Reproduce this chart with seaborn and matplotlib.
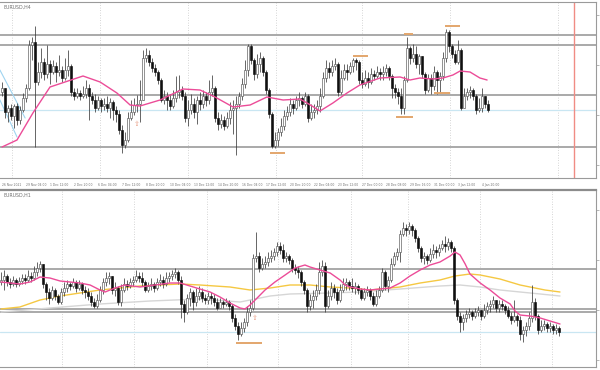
import numpy as np
import matplotlib
matplotlib.use("Agg")
import matplotlib.pyplot as plt
import seaborn as sns

sns.set_style("white")
plt.rcParams['font.family'] = ['DejaVu Sans']

# ---------- upper chart: EURUSD H4 ----------
h4_first_open = 1.1323
h4_close = [1.1327, 1.1303, 1.1307, 1.1299, 1.1309, 1.1295, 1.1305, 1.1317, 1.1327, 1.1370,
            1.1373, 1.1333, 1.1343, 1.1353, 1.1341, 1.1351, 1.1343, 1.1349, 1.1343, 1.1345,
            1.1337, 1.1345, 1.1349, 1.1323, 1.1319, 1.1322, 1.1319, 1.1321, 1.1327, 1.1319,
            1.1315, 1.1307, 1.1315, 1.1309, 1.1311, 1.1307, 1.1313, 1.1305, 1.1301, 1.1285,
            1.1270, 1.1275, 1.1297, 1.1303, 1.1310, 1.1311, 1.1315, 1.1357, 1.1360, 1.1353,
            1.1347, 1.1343, 1.1335, 1.1315, 1.1319, 1.1315, 1.1309, 1.1317, 1.1323, 1.1325,
            1.1319, 1.1297, 1.1305, 1.1311, 1.1303, 1.1315, 1.1311, 1.1319, 1.1315, 1.1323,
            1.1327, 1.1297, 1.1291, 1.1295, 1.1289, 1.1297, 1.1305, 1.1307, 1.1311, 1.1319,
            1.1331, 1.1345, 1.1369, 1.1355, 1.1341, 1.1351, 1.1357, 1.1343, 1.1325, 1.1301,
            1.1269, 1.1275, 1.1283, 1.1289, 1.1299, 1.1303, 1.1311, 1.1307, 1.1315, 1.1317,
            1.1311, 1.1319, 1.1297, 1.1303, 1.1305, 1.1309, 1.1319, 1.1337, 1.1347, 1.1343,
            1.1349, 1.1351, 1.1323, 1.1337, 1.1345, 1.1343, 1.1349, 1.1355, 1.1353, 1.1335,
            1.1331, 1.1337, 1.1333, 1.1341, 1.1339, 1.1343, 1.1341, 1.1343, 1.1347, 1.1339,
            1.1327, 1.1323, 1.1319, 1.1307, 1.1335, 1.1367, 1.1357, 1.1361, 1.1351, 1.1359,
            1.1341, 1.1325, 1.1337, 1.1329, 1.1343, 1.1335, 1.1339, 1.1357, 1.1383, 1.1369,
            1.1361, 1.1353, 1.1365, 1.1307, 1.1319, 1.1323, 1.1325, 1.1319, 1.1305, 1.1307,
            1.1319, 1.1311, 1.1305]
h4_high = [1.1333, 1.1323, 1.1310, 1.1311, 1.1311, 1.1312, 1.1309, 1.1322, 1.1331, 1.1375,
           1.1378, 1.1389, 1.1353, 1.1367, 1.1357, 1.1370, 1.1355, 1.1355, 1.1353, 1.1360,
           1.1349, 1.1357, 1.1365, 1.1351, 1.1327, 1.1327, 1.1325, 1.1329, 1.1335, 1.1331,
           1.1323, 1.1321, 1.1319, 1.1317, 1.1317, 1.1319, 1.1317, 1.1315, 1.1309, 1.1305,
           1.1290, 1.1283, 1.1303, 1.1315, 1.1317, 1.1320, 1.1335, 1.1365, 1.1367, 1.1365,
           1.1357, 1.1351, 1.1345, 1.1337, 1.1325, 1.1323, 1.1321, 1.1325, 1.1339, 1.1340,
           1.1329, 1.1323, 1.1315, 1.1321, 1.1317, 1.1319, 1.1323, 1.1325, 1.1323, 1.1335,
           1.1340, 1.1329, 1.1303, 1.1301, 1.1299, 1.1303, 1.1313, 1.1315, 1.1319, 1.1323,
           1.1337, 1.1355, 1.1371, 1.1371, 1.1357, 1.1361, 1.1363, 1.1359, 1.1345, 1.1327,
           1.1303, 1.1283, 1.1287, 1.1297, 1.1305, 1.1309, 1.1317, 1.1315, 1.1319, 1.1323,
           1.1319, 1.1323, 1.1321, 1.1311, 1.1311, 1.1315, 1.1327, 1.1343, 1.1355, 1.1353,
           1.1355, 1.1357, 1.1353, 1.1345, 1.1351, 1.1351, 1.1353, 1.1357, 1.1357, 1.1355,
           1.1343, 1.1345, 1.1343, 1.1347, 1.1345, 1.1349, 1.1347, 1.1349, 1.1351, 1.1349,
           1.1341, 1.1331, 1.1327, 1.1327, 1.1339, 1.1378, 1.1369, 1.1371, 1.1369, 1.1361,
           1.1359, 1.1343, 1.1341, 1.1341, 1.1349, 1.1345, 1.1343, 1.1363, 1.1386, 1.1385,
           1.1371, 1.1365, 1.1375, 1.1367, 1.1327, 1.1327, 1.1329, 1.1327, 1.1321, 1.1317,
           1.1327, 1.1319, 1.1315]
h4_low = [1.1319, 1.1297, 1.1293, 1.1295, 1.1287, 1.1290, 1.1291, 1.1303, 1.1313, 1.1325,
          1.1355, 1.1268, 1.1330, 1.1337, 1.1335, 1.1337, 1.1331, 1.1341, 1.1333, 1.1339,
          1.1333, 1.1335, 1.1339, 1.1319, 1.1315, 1.1317, 1.1315, 1.1317, 1.1317, 1.1295,
          1.1311, 1.1303, 1.1305, 1.1303, 1.1305, 1.1303, 1.1297, 1.1295, 1.1293, 1.1281,
          1.1262, 1.1267, 1.1273, 1.1295, 1.1300, 1.1303, 1.1293, 1.1315, 1.1353, 1.1349,
          1.1343, 1.1339, 1.1331, 1.1313, 1.1311, 1.1305, 1.1305, 1.1307, 1.1313, 1.1317,
          1.1315, 1.1293, 1.1289, 1.1301, 1.1297, 1.1291, 1.1305, 1.1307, 1.1309, 1.1311,
          1.1319, 1.1293, 1.1285, 1.1287, 1.1285, 1.1287, 1.1291, 1.1281, 1.1260, 1.1307,
          1.1315, 1.1327, 1.1339, 1.1351, 1.1335, 1.1337, 1.1343, 1.1339, 1.1321, 1.1297,
          1.1267, 1.1267, 1.1269, 1.1279, 1.1285, 1.1295, 1.1299, 1.1301, 1.1305, 1.1309,
          1.1307, 1.1309, 1.1293, 1.1295, 1.1297, 1.1301, 1.1303, 1.1317, 1.1333, 1.1337,
          1.1339, 1.1345, 1.1319, 1.1321, 1.1335, 1.1335, 1.1341, 1.1343, 1.1345, 1.1331,
          1.1327, 1.1329, 1.1327, 1.1331, 1.1335, 1.1337, 1.1335, 1.1335, 1.1339, 1.1335,
          1.1317, 1.1317, 1.1311, 1.1301, 1.1301, 1.1333, 1.1351, 1.1353, 1.1347, 1.1341,
          1.1337, 1.1321, 1.1323, 1.1321, 1.1325, 1.1321, 1.1323, 1.1335, 1.1353, 1.1363,
          1.1357, 1.1351, 1.1351, 1.1305, 1.1311, 1.1315, 1.1317, 1.1315, 1.1301, 1.1303,
          1.1303, 1.1307, 1.1303]

# moving average (pink) sampled along the bars
h4_ma_bar = [0, 5, 10.3, 16, 27, 32.7, 38.3, 42.7, 46, 52.7, 60.3, 66, 71, 77, 82.7, 88.3,
             93.7, 99.3, 101.7, 106, 110.3, 115, 119.3, 126, 132.7, 136, 139.3, 143.7, 147,
             150.3, 152.7, 156, 159.3, 161.7]
h4_ma = [1.1268, 1.1275, 1.1302, 1.1328, 1.1339, 1.1333, 1.1322, 1.1310, 1.1309, 1.1315,
         1.1326, 1.1325, 1.1318, 1.1308, 1.1310, 1.1318, 1.1315, 1.1316, 1.1312, 1.1304,
         1.1312, 1.1322, 1.1330, 1.1337, 1.1338, 1.1335, 1.1337, 1.1336, 1.1337, 1.1340,
         1.1344, 1.1343, 1.1337, 1.1335]

h4_levels = [1.1380, 1.1370, 1.1320, 1.1268]
h4_blue_level = 1.1305
h4_channel = [([-0.7, 7.7], [1.1345, 1.1297]), ([-0.7, 5.0], [1.1315, 1.1278])]
# orange swing markers: (first bar, last bar, price)
h4_marks = [(89.3, 94.3, 1.1262), (117, 122, 1.1359), (134, 137, 1.1381),
            (147.7, 152.7, 1.1389), (144, 149.3, 1.1322), (131.3, 137, 1.1298)]
h4_arrow = (45, 1.1291)
h4_labels = ["26 Nov 2021", "29 Nov 04:00", "1 Dec 12:00", "2 Dec 20:00", "6 Dec 04:00",
             "7 Dec 12:00", "8 Dec 20:00", "10 Dec 04:00", "13 Dec 12:00", "14 Dec 20:00",
             "16 Dec 04:00", "17 Dec 12:00", "20 Dec 20:00", "22 Dec 04:00", "23 Dec 12:00",
             "27 Dec 00:00", "28 Dec 08:00", "29 Dec 16:00", "31 Dec 00:00", "3 Jan 12:00",
             "4 Jan 20:00"]
h4_grid_bars = [3.3, 32.7, 62, 91.3, 120, 149.3, 185.3]
h4_now_bar = 190.7

# ---------- lower chart: EURUSD H1 ----------
h1_first_open = 1.1328
h1_close = [1.1330, 1.1334, 1.1328, 1.1326, 1.1330, 1.1326, 1.1329, 1.1332, 1.1330, 1.1334,
            1.1332, 1.1338, 1.1342, 1.1346, 1.1326, 1.1318, 1.1312, 1.1320, 1.1314, 1.1308,
            1.1318, 1.1322, 1.1326, 1.1324, 1.1328, 1.1322, 1.1326, 1.1320, 1.1318, 1.1314,
            1.1308, 1.1304, 1.1310, 1.1320, 1.1328, 1.1332, 1.1334, 1.1320, 1.1322, 1.1308,
            1.1320, 1.1326, 1.1324, 1.1328, 1.1330, 1.1334, 1.1332, 1.1328, 1.1320, 1.1324,
            1.1326, 1.1322, 1.1328, 1.1330, 1.1326, 1.1332, 1.1334, 1.1336, 1.1338, 1.1330,
            1.1306, 1.1298, 1.1312, 1.1318, 1.1308, 1.1314, 1.1318, 1.1312, 1.1310, 1.1314,
            1.1312, 1.1308, 1.1302, 1.1308, 1.1306, 1.1308, 1.1304, 1.1292, 1.1284, 1.1276,
            1.1282, 1.1288, 1.1298, 1.1302, 1.1352, 1.1354, 1.1342, 1.1346, 1.1348, 1.1352,
            1.1354, 1.1358, 1.1364, 1.1360, 1.1352, 1.1354, 1.1350, 1.1342, 1.1340, 1.1338,
            1.1328, 1.1320, 1.1304, 1.1310, 1.1314, 1.1320, 1.1338, 1.1344, 1.1304, 1.1314,
            1.1322, 1.1318, 1.1310, 1.1320, 1.1326, 1.1328, 1.1324, 1.1322, 1.1324, 1.1320,
            1.1312, 1.1318, 1.1320, 1.1314, 1.1306, 1.1314, 1.1320, 1.1338, 1.1324, 1.1330,
            1.1346, 1.1354, 1.1358, 1.1376, 1.1382, 1.1380, 1.1384, 1.1380, 1.1372, 1.1362,
            1.1352, 1.1354, 1.1350, 1.1356, 1.1360, 1.1358, 1.1362, 1.1366, 1.1364, 1.1368,
            1.1362, 1.1310, 1.1294, 1.1288, 1.1292, 1.1296, 1.1298, 1.1294, 1.1298, 1.1300,
            1.1294, 1.1300, 1.1304, 1.1306, 1.1310, 1.1302, 1.1306, 1.1304, 1.1300, 1.1294,
            1.1290, 1.1294, 1.1290, 1.1276, 1.1280, 1.1284, 1.1292, 1.1308, 1.1294, 1.1280,
            1.1284, 1.1286, 1.1282, 1.1284, 1.1280, 1.1282, 1.1278]
h1_high = [1.1338, 1.1340, 1.1336, 1.1332, 1.1334, 1.1332, 1.1333, 1.1336, 1.1336, 1.1340,
           1.1338, 1.1344, 1.1348, 1.1349, 1.1346, 1.1328, 1.1322, 1.1324, 1.1322, 1.1316,
           1.1322, 1.1328, 1.1330, 1.1328, 1.1332, 1.1330, 1.1330, 1.1328, 1.1324, 1.1322,
           1.1318, 1.1312, 1.1316, 1.1324, 1.1332, 1.1338, 1.1338, 1.1334, 1.1328, 1.1324,
           1.1326, 1.1332, 1.1330, 1.1332, 1.1334, 1.1340, 1.1338, 1.1338, 1.1330, 1.1328,
           1.1332, 1.1328, 1.1332, 1.1336, 1.1334, 1.1338, 1.1338, 1.1340, 1.1342, 1.1340,
           1.1334, 1.1310, 1.1316, 1.1322, 1.1320, 1.1322, 1.1324, 1.1322, 1.1316, 1.1318,
           1.1318, 1.1316, 1.1312, 1.1312, 1.1310, 1.1312, 1.1310, 1.1306, 1.1296, 1.1288,
           1.1288, 1.1292, 1.1304, 1.1310, 1.1356, 1.1378, 1.1358, 1.1352, 1.1354, 1.1358,
           1.1360, 1.1362, 1.1368, 1.1368, 1.1366, 1.1358, 1.1356, 1.1352, 1.1346, 1.1344,
           1.1340, 1.1330, 1.1322, 1.1316, 1.1320, 1.1326, 1.1348, 1.1350, 1.1348, 1.1320,
           1.1328, 1.1326, 1.1322, 1.1326, 1.1332, 1.1332, 1.1330, 1.1332, 1.1328, 1.1326,
           1.1322, 1.1322, 1.1324, 1.1322, 1.1318, 1.1320, 1.1324, 1.1342, 1.1340, 1.1334,
           1.1352, 1.1358, 1.1362, 1.1380, 1.1388, 1.1386, 1.1388, 1.1386, 1.1382, 1.1374,
           1.1364, 1.1358, 1.1356, 1.1362, 1.1366, 1.1364, 1.1366, 1.1370, 1.1374, 1.1372,
           1.1370, 1.1364, 1.1312, 1.1298, 1.1296, 1.1300, 1.1302, 1.1300, 1.1302, 1.1304,
           1.1300, 1.1306, 1.1308, 1.1310, 1.1314, 1.1310, 1.1310, 1.1310, 1.1306, 1.1304,
           1.1298, 1.1310, 1.1296, 1.1294, 1.1284, 1.1288, 1.1298, 1.1325, 1.1312, 1.1296,
           1.1290, 1.1290, 1.1288, 1.1288, 1.1286, 1.1286, 1.1284]
h1_low = [1.1325, 1.1320, 1.1324, 1.1322, 1.1324, 1.1323, 1.1324, 1.1326, 1.1326, 1.1328,
          1.1328, 1.1330, 1.1334, 1.1338, 1.1322, 1.1310, 1.1306, 1.1310, 1.1310, 1.1306,
          1.1306, 1.1314, 1.1318, 1.1320, 1.1322, 1.1318, 1.1320, 1.1316, 1.1312, 1.1310,
          1.1304, 1.1302, 1.1302, 1.1308, 1.1316, 1.1324, 1.1326, 1.1316, 1.1314, 1.1305,
          1.1304, 1.1318, 1.1320, 1.1322, 1.1324, 1.1328, 1.1328, 1.1324, 1.1318, 1.1318,
          1.1320, 1.1318, 1.1320, 1.1324, 1.1322, 1.1324, 1.1328, 1.1330, 1.1332, 1.1326,
          1.1292, 1.1288, 1.1296, 1.1304, 1.1300, 1.1304, 1.1310, 1.1308, 1.1306, 1.1306,
          1.1306, 1.1304, 1.1300, 1.1302, 1.1302, 1.1304, 1.1300, 1.1288, 1.1280, 1.1270,
          1.1274, 1.1278, 1.1284, 1.1294, 1.1300, 1.1348, 1.1338, 1.1340, 1.1342, 1.1344,
          1.1348, 1.1350, 1.1354, 1.1356, 1.1348, 1.1348, 1.1346, 1.1338, 1.1336, 1.1332,
          1.1324, 1.1316, 1.1298, 1.1300, 1.1302, 1.1310, 1.1316, 1.1334, 1.1298, 1.1302,
          1.1310, 1.1312, 1.1306, 1.1308, 1.1318, 1.1320, 1.1320, 1.1318, 1.1316, 1.1316,
          1.1310, 1.1310, 1.1314, 1.1310, 1.1304, 1.1304, 1.1312, 1.1318, 1.1320, 1.1318,
          1.1328, 1.1344, 1.1350, 1.1348, 1.1374, 1.1374, 1.1376, 1.1374, 1.1368, 1.1358,
          1.1348, 1.1346, 1.1346, 1.1348, 1.1352, 1.1352, 1.1354, 1.1360, 1.1358, 1.1360,
          1.1358, 1.1306, 1.1290, 1.1278, 1.1280, 1.1288, 1.1292, 1.1290, 1.1292, 1.1294,
          1.1290, 1.1292, 1.1296, 1.1298, 1.1302, 1.1298, 1.1298, 1.1300, 1.1296, 1.1292,
          1.1286, 1.1288, 1.1284, 1.1270, 1.1268, 1.1274, 1.1280, 1.1288, 1.1290, 1.1276,
          1.1278, 1.1280, 1.1278, 1.1278, 1.1276, 1.1276, 1.1274]

h1_fast_bar = [0, 3, 6.3, 9.7, 13, 16.3, 19.7, 23, 26.3, 29.7, 33, 34.7, 38, 41.3, 46.3, 51.3,
               56.3, 59.7, 63, 66.3, 69.7, 73, 76.3, 79.7, 81.3, 83, 84.7, 88, 91.3, 94.7, 98,
               101.3, 103, 106.3, 109.7, 113, 114.7, 116.3, 119.7, 123, 126.3, 129.7, 133,
               136.3, 139.7, 143, 146.3, 149.7, 151.3, 153, 154.7, 156.3, 159.7, 163, 166.3,
               169.7, 171.3, 173, 176.3, 179.7, 183, 186.3]
h1_fast = [1.1328, 1.1327, 1.1326, 1.1328, 1.1333, 1.1332, 1.1329, 1.1328, 1.1327, 1.1325,
           1.1320, 1.1318, 1.1322, 1.1325, 1.1323, 1.1325, 1.1327, 1.1327, 1.1324, 1.1321,
           1.1318, 1.1313, 1.1307, 1.1302, 1.1301, 1.1305, 1.1310, 1.1320, 1.1328, 1.1335,
           1.1342, 1.1345, 1.1343, 1.1340, 1.1337, 1.1330, 1.1325, 1.1323, 1.1321, 1.1320,
           1.1321, 1.1322, 1.1327, 1.1334, 1.1340, 1.1345, 1.1348, 1.1354, 1.1358, 1.1355,
           1.1346, 1.1336, 1.1327, 1.1320, 1.1312, 1.1306, 1.1299, 1.1295, 1.1294, 1.1292,
           1.1289, 1.1286]
h1_mid_bar = [0, 6.3, 13, 19.7, 26.3, 33, 39.7, 46.3, 53, 59.7, 66.3, 76.3, 83, 89.7, 96.3,
              103, 109.7, 116.3, 123, 129.7, 133, 139.7, 146.3, 151.3, 156.3, 159.7, 166.3,
              173, 176.3, 181.3, 186.3]
h1_mid = [1.1301, 1.1303, 1.1310, 1.1314, 1.1317, 1.1320, 1.1322, 1.1324, 1.1325, 1.1326,
          1.1325, 1.1323, 1.1320, 1.1322, 1.1325, 1.1325, 1.1323, 1.1322, 1.1320, 1.1322,
          1.1323, 1.1327, 1.1330, 1.1334, 1.1336, 1.1335, 1.1331, 1.1325, 1.1323, 1.1320,
          1.1318]
h1_slow_bar = [0, 16.3, 33, 49.7, 66.3, 79.7, 83, 89.7, 96.3, 109.7, 119.7, 133, 146.3, 153,
               159.7, 166.3, 173, 179.7, 186.3]
h1_slow = [1.1298, 1.1302, 1.1306, 1.1309, 1.1311, 1.1308, 1.1310, 1.1314, 1.1316, 1.1317,
           1.1318, 1.1321, 1.1324, 1.1325, 1.1323, 1.1320, 1.1318, 1.1316, 1.1314]

h1_levels = [1.1341, 1.1301, 1.1298]
h1_blue_level = 1.1278
h1_marks = [(78.3, 87, 1.1267)]
h1_arrow = (84.7, 1.1292)
h1_grid_bars = [20.3, 44.3, 68.7, 92.3, 116.7, 135.7, 159.7, 183.7]

GREY_TXT = '#707070'
LEVEL = '#a9a9a9'


def draw_candles(ax, first_open, close, high, low):
    c = np.array(close)
    o = np.concatenate([[first_open], c[:-1]])
    hi = np.maximum(np.array(high), np.maximum(o, c))
    lo = np.minimum(np.array(low), np.minimum(o, c))
    x = np.arange(len(c))
    ax.vlines(x, lo, hi, color='#3c3c3c', lw=0.55, zorder=3)
    up = c >= o
    body = np.maximum(np.abs(c - o), 0.00003)
    ax.bar(x[up], body[up], bottom=o[up], width=0.72, color='white',
           edgecolor='#555555', linewidth=0.45, zorder=4)
    ax.bar(x[~up], body[~up], bottom=c[~up], width=0.72, color='#101010',
           edgecolor='#101010', linewidth=0.45, zorder=4)


def frame(ax):
    for s in ax.spines.values():
        s.set_color('#9a9a9a')
        s.set_linewidth(0.8)
    ax.spines['left'].set_visible(False)
    ax.yaxis.tick_right()
    ax.tick_params(axis='y', length=2, width=0.5, colors='#9a9a9a', labelright=False)


fig = plt.figure(figsize=(6, 3.7), dpi=100)
ax1 = fig.add_axes([0.0, 1 - 178 / 370, 596 / 600, 176 / 370])
ax2 = fig.add_axes([0.0, 3 / 370, 596 / 600, 177 / 370])

# upper panel
for b in h4_grid_bars:
    ax1.axvline(b, color='#c8c8c8', lw=0.6, ls=(0, (1, 2)), zorder=1)
for lv in h4_levels:
    ax1.axhline(lv, color=LEVEL, lw=1.4, zorder=2)
ax1.axhline(h4_blue_level, color='#c9e6f2', lw=0.9, zorder=2)
ax1.axvline(h4_now_bar, color='#f08c84', lw=1.0, zorder=2)
for xs, ys in h4_channel:
    ax1.plot(xs, ys, color='#9fd4f0', lw=0.8, zorder=2)
draw_candles(ax1, h4_first_open, h4_close, h4_high, h4_low)
sns.lineplot(x=h4_ma_bar, y=h4_ma, ax=ax1, color='#ec4c98', lw=1.0,
             sort=False, estimator=None, legend=False, zorder=5)
for a, b, p in h4_marks:
    ax1.hlines(p, a, b, color='#e3a66c', lw=1.4, zorder=5)
ax1.text(h4_arrow[0], h4_arrow[1], '⇧', color='#e89a80', fontsize=5,
         ha='center', va='center', zorder=6)
ax1.text(0.006, 0.985, 'EURUSD,H4', transform=ax1.transAxes, fontsize=3.4,
         color=GREY_TXT, va='top', ha='left')
ax1.set_xlim(-0.67, 198)
ax1.set_ylim(1.1237, 1.1413)
ax1.set_xticks(np.arange(len(h4_labels)) * 8)
ax1.set_xticklabels(h4_labels, fontsize=2.2, color=GREY_TXT, ha='left')
ax1.tick_params(axis='x', length=2, width=0.5, colors='#9a9a9a', pad=1.8,
                labelcolor=GREY_TXT)
frame(ax1)
ax1.set_xlabel('')
ax1.set_ylabel('')

# lower panel
for b in h1_grid_bars:
    ax2.axvline(b, color='#c8c8c8', lw=0.6, ls=(0, (1, 2)), zorder=1)
for lv in h1_levels:
    ax2.axhline(lv, color=LEVEL, lw=1.4, zorder=2)
ax2.axhline(h1_blue_level, color='#c9e6f2', lw=0.9, zorder=2)
sns.lineplot(x=h1_slow_bar, y=h1_slow, ax=ax2, color='#d6d6d6', lw=1.0,
             sort=False, estimator=None, legend=False, zorder=2.5)
sns.lineplot(x=h1_mid_bar, y=h1_mid, ax=ax2, color='#f5c842', lw=1.0,
             sort=False, estimator=None, legend=False, zorder=2.6)
draw_candles(ax2, h1_first_open, h1_close, h1_high, h1_low)
sns.lineplot(x=h1_fast_bar, y=h1_fast, ax=ax2, color='#ec4c98', lw=1.0,
             sort=False, estimator=None, legend=False, zorder=5)
for a, b, p in h1_marks:
    ax2.hlines(p, a, b, color='#e3a66c', lw=1.4, zorder=5)
ax2.text(h1_arrow[0], h1_arrow[1], '⇧', color='#e89a80', fontsize=5,
         ha='center', va='center', zorder=6)
ax2.text(0.006, 0.985, 'EURUSD,H1', transform=ax2.transAxes, fontsize=3.4,
         color=GREY_TXT, va='top', ha='left')
ax2.set_xlim(-0.33, 198.3)
ax2.set_ylim(1.1243, 1.1420)
ax2.set_xticks(np.arange(0, 190, 8))
ax2.set_xticklabels([])
ax2.tick_params(axis='x', length=2, width=0.5, colors='#9a9a9a')
frame(ax2)
ax2.spines['top'].set_linewidth(1.6)
ax2.spines['top'].set_color('#8c8c8c')
ax2.set_xlabel('')
ax2.set_ylabel('')

fig.savefig('out.png', dpi=100, facecolor='white')
